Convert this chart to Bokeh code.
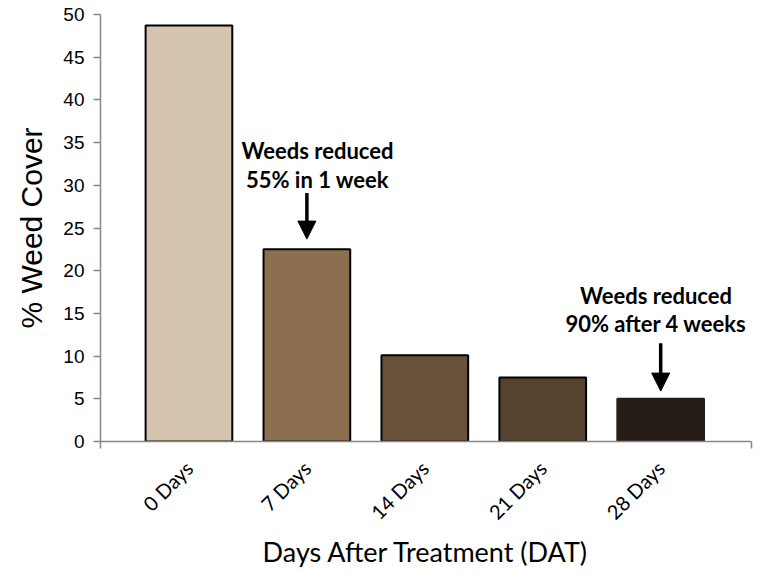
import math
from bokeh.plotting import figure
from bokeh.models import Range1d, FixedTicker, Arrow, NormalHead, Label, ColumnDataSource
from bokeh.embed import file_html
from bokeh.resources import INLINE

categories = ["0 Days", "7 Days", "14 Days", "21 Days", "28 Days"]
weed_cover = [48.7, 22.5, 10.1, 7.5, 5.0]
bar_colors = ["#D5C4B0", "#8C6F4F", "#6A523A", "#564430", "#261D17"]
outline_colors = ["#000000", "#000000", "#000000", "#000000", "#261D17"]
y_ticks = [0, 5, 10, 15, 20, 25, 30, 35, 40, 45, 50]

positions = [i + 0.5 for i in range(len(categories))]
x_lo, x_hi = -0.25, 5.27

src = ColumnDataSource(dict(x=positions, top=weed_cover, fill=bar_colors, line=outline_colors, cat=categories))

p = figure(width=766, height=571, x_range=Range1d(x_lo, x_hi), y_range=Range1d(0, 50),
           output_backend="svg", toolbar_location=None,
           min_border_left=100, min_border_right=15, min_border_top=14, min_border_bottom=130)
p.outline_line_color = None
p.xgrid.visible = False
p.ygrid.visible = False
p.background_fill_color = "white"

p.vbar(x="x", top="top", bottom=0, width=0.735, fill_color="fill", line_color="line",
       line_width=2, source=src)

axis_gray = "#868686"

# y axis
ya = p.yaxis[0]
ya.ticker = FixedTicker(ticks=y_ticks, minor_ticks=[])
ya.axis_line_color = axis_gray
ya.axis_line_width = 1.5
ya.major_tick_line_color = axis_gray
ya.major_tick_line_width = 1.5
ya.major_tick_in = 0
ya.major_tick_out = 7
ya.minor_tick_line_color = None
ya.major_label_standoff = 9
ya.major_label_text_font = "Liberation Sans"
ya.major_label_text_font_size = "19px"
ya.major_label_text_color = "#000000"
ya.axis_label = "% Weed Cover"
ya.axis_label_text_font = "Liberation Sans"
ya.axis_label_text_font_style = "normal"
ya.axis_label_text_font_size = "30px"
ya.axis_label_text_color = "#000000"
ya.axis_label_standoff = 12

# x axis
xa = p.xaxis[0]
xa.ticker = FixedTicker(ticks=positions, minor_ticks=[x_lo, x_hi])
xa.major_label_overrides = {pos: cat for pos, cat in zip(positions, categories)}
xa.major_label_orientation = math.pi / 4
xa.axis_line_color = axis_gray
xa.axis_line_width = 1.5
xa.major_tick_line_color = None
xa.major_tick_in = 0
xa.major_tick_out = 0
xa.minor_tick_line_color = axis_gray
xa.minor_tick_line_width = 1.5
xa.minor_tick_in = 0
xa.minor_tick_out = 7
xa.major_label_standoff = 16
xa.major_label_text_font = "Lato"
xa.major_label_text_font_size = "20px"
xa.major_label_text_color = "#000000"
xa.axis_label = "Days After Treatment (DAT)"
xa.axis_label_text_font = "Lato"
xa.axis_label_text_font_style = "normal"
xa.axis_label_text_font_size = "27px"
xa.axis_label_text_color = "#000000"
xa.axis_label_standoff = 0

# annotations
notes = [
    (1.59, 34.1, "Weeds reduced"),
    (1.59, 30.7, "55% in 1 week"),
    (4.46, 17.1, "Weeds reduced"),
    (4.46, 13.8, "90% after 4 weeks"),
]
for nx, ny, txt in notes:
    p.add_layout(Label(x=nx, y=ny, text=txt, text_align="center", text_baseline="middle",
                       text_font="Lato", text_font_style="bold", text_font_size="22px",
                       text_color="#000000"))

arrows = [(1.5, 29.1, 23.7), (4.5, 11.5, 5.9)]
for ax_, y0, y1 in arrows:
    p.add_layout(Arrow(end=NormalHead(size=18, fill_color="black", line_color="black"),
                       x_start=ax_, y_start=y0, x_end=ax_, y_end=y1,
                       line_width=3.5, line_color="black"))

open("out.html", "w").write(file_html(p, INLINE))
